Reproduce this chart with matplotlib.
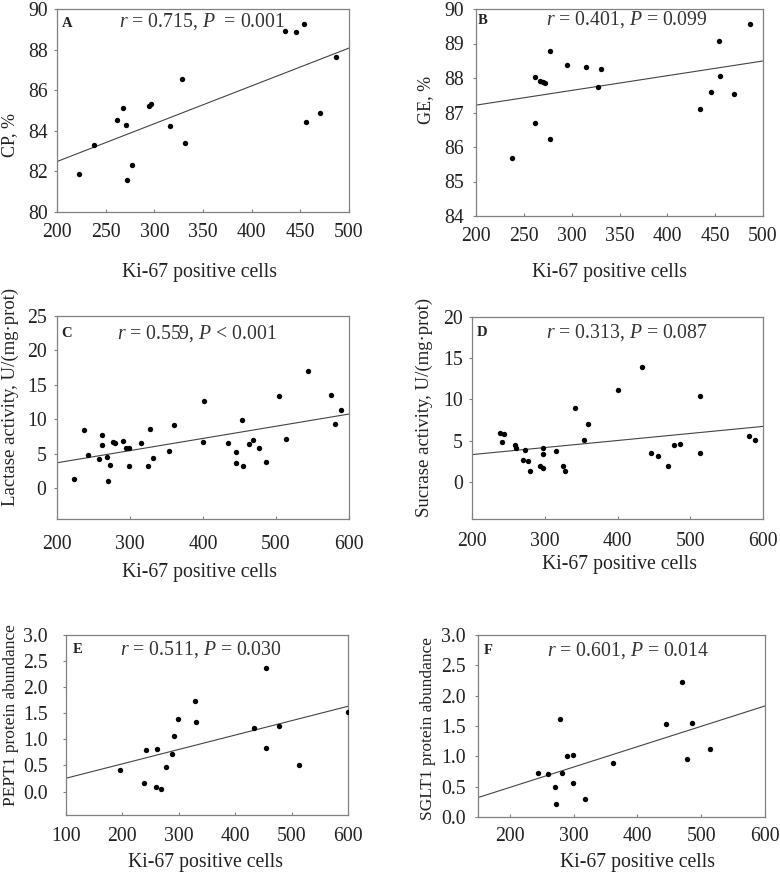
import numpy as np
import matplotlib
matplotlib.use("Agg")
import matplotlib.pyplot as plt

plt.rcParams['font.family'] = ['Liberation Serif', 'DejaVu Serif']
plt.rcParams['mathtext.fontset'] = 'custom'
plt.rcParams['mathtext.rm'] = 'Liberation Serif'
plt.rcParams['mathtext.it'] = 'Liberation Serif:italic'

# Données
cp_x = [223, 238, 262, 268, 271, 272, 277, 295, 297, 316, 328, 331, 434, 446, 454, 456, 470, 487]
cp_y = [81.89, 83.31, 84.52, 85.11, 84.31, 81.59, 82.30, 85.21, 85.33, 84.23, 86.56, 83.39,
        88.93, 88.87, 89.25, 84.43, 84.89, 87.62]

ge_x = [238, 262, 262, 267, 270, 272, 277, 277, 295, 315, 328, 331, 434, 446, 454, 455, 470, 486]
ge_y = [85.67, 88.02, 86.71, 87.91, 87.88, 87.86, 88.78, 86.24, 88.37, 88.31, 87.74, 88.25,
        87.10, 87.59, 89.07, 88.06, 87.54, 89.56]

lac_x = [223, 237, 243, 258, 262, 262, 268, 270, 272, 277, 280, 291, 294, 298, 298, 315, 325,
         327, 331, 354, 360, 400, 401, 434, 445, 445, 453, 455, 463, 469, 477, 486, 504, 514,
         544, 576, 581, 589]
lac_y = [1.25, 8.45, 4.73, 4.2, 7.77, 6.27, 4.54, 0.97, 3.28, 6.71, 6.52, 6.9, 5.79, 5.79,
         3.19, 6.61, 3.23, 8.54, 4.39, 5.45, 9.17, 6.71, 12.64, 6.52, 5.21, 3.62, 9.85, 3.23,
         6.37, 7.0, 5.79, 3.81, 13.32, 7.09, 16.99, 13.47, 9.36, 11.29]

suc_x = [238, 241, 244, 259, 261, 273, 270, 277, 280, 294, 298, 297, 298, 315, 325, 328, 342,
         354, 360, 400, 434, 446, 455, 470, 477, 486, 514, 514, 581, 589]
suc_y = [5.97, 4.88, 5.81, 4.52, 4.11, 3.83, 2.7, 2.5, 1.37, 1.94, 1.69, 4.15, 3.35, 3.71,
         1.9, 1.29, 8.91, 5.04, 7.02, 11.09, 13.91, 3.47, 3.1, 1.9, 4.48, 4.64, 10.44, 3.51,
         5.6, 5.08]

pept_x = [196, 238, 241, 259, 262, 268, 277, 288, 292, 299, 328, 331, 434, 454, 454, 477, 514, 600]
pept_y = [0.42, 0.17, 0.80, 0.09, 0.82, 0.05, 0.47, 0.72, 1.07, 1.39, 1.73, 1.34, 1.21, 2.36,
          0.83, 1.25, 0.51, 1.52]

sglt_x = [244, 260, 271, 273, 278, 281, 289, 299, 299, 317, 361, 445, 470, 477, 486, 514]
sglt_y = [0.72, 0.71, 0.50, 0.21, 1.62, 0.72, 1.01, 1.03, 0.56, 0.30, 0.89, 1.54, 2.23, 0.96,
          1.55, 1.12]

# Droites de régression (pente, ordonnée à l'origine)
trend_cp = (0.01863, 78.76)
trend_ge = (0.004267, 86.36)
trend_lac = (0.0177, 0.13)
trend_suc = (0.00855, 1.6)
trend_pept = (0.002758, -0.021)
trend_sglt = (0.003356, -0.183)

stats = [r'$r$ = 0.715, $P$  = 0.001', r'$r$ = 0.401, $P$ = 0.099', r'$r$ = 0.559, $P$ < 0.001',
         r'$r$ = 0.313, $P$ = 0.087', r'$r$ = 0.511, $P$ = 0.030', r'$r$ = 0.601, $P$ = 0.014']
letters = ['A', 'B', 'C', 'D', 'E', 'F']
ylabels = ['CP, %', 'GE, %', 'Lactase activity, U/(mg·prot)', 'Sucrase activity, U/(mg·prot)',
           'PEPT1 protein abundance', 'SGLT1 protein abundance']
ylabel_sizes = [13, 13, 13.5, 13.5, 12.5, 12.5]
xlabel = 'Ki-67 positive cells'

W, H = 780, 873
fig = plt.figure(figsize=(W / 100, H / 100), dpi=100)


def add_ax(left, top, right, bottom):
    return fig.add_axes([left / W, 1 - bottom / H, (right - left) / W, (bottom - top) / H])


def fig_text(x, y, s, **kw):
    fig.text(x / W, 1 - y / H, s, ha='center', va='center', color='#222222', **kw)


panels = [
    # x, y, tendance, cadre (px), xlim, ylim, xticks, yticks, format, pads, position texte, ylabel px, xlabel px
    (cp_x, cp_y, trend_cp, (57, 9, 349, 212), (200, 500), (80, 90), np.arange(200, 501, 50),
     np.arange(80, 91, 2), '{:.0f}', (8, 4), (0.017, 0.93, 0.212, 0.936), (10, 135), (200, 272)),
    (ge_x, ge_y, trend_ge, (476, 9, 763, 216), (200, 500), (84, 90), np.arange(200, 501, 50),
     np.arange(84, 91, 1), '{:.0f}', (8, 6.5), (0.005, 0.945, 0.244, 0.947), (426, 100), (610, 272)),
    (lac_x, lac_y, trend_lac, (57, 316, 349, 519), (200, 600), (-4.5, 25), np.arange(200, 601, 100),
     np.arange(0, 26, 5), '{:.0f}', (11.5, 5), (0.013, 0.916, 0.205, 0.916), (10, 397), (200, 572)),
    (suc_x, suc_y, trend_suc, (472, 317, 763, 519), (200, 600), (-4.5, 20), np.arange(200, 601, 100),
     np.arange(0, 21, 5), '{:.0f}', (9, 4), (0.017, 0.924, 0.253, 0.924), (424, 407), (620, 565)),
    (pept_x, pept_y, trend_pept, (66, 635, 348, 815), (100, 600), (-0.45, 3.0), np.arange(100, 601, 100),
     np.arange(0, 3.01, 0.5), '{:.1f}', (8.5, 10.5), (0.023, 0.92, 0.193, 0.92), (11, 715), (205, 862)),
    (sglt_x, sglt_y, trend_sglt, (478, 635, 765, 817), (150, 600), (0, 3.0), np.arange(200, 601, 100),
     np.arange(0, 3.01, 0.5), '{:.1f}', (7.5, 6.5), (0.021, 0.914, 0.241, 0.914), (428, 728), (637, 862)),
]

for i, (x, y, trend, box, xlim, ylim, xt, yt, fmt, pads, tpos, ylpos, xlpos) in enumerate(panels):
    ax = add_ax(*box)
    ax.scatter(x, y, s=15, color='black', zorder=3, linewidths=0)
    xs = np.array(xlim, dtype=float)
    ax.plot(xs, trend[0] * xs + trend[1], color='#444444', lw=0.8)
    ax.set_xlim(xlim)
    ax.set_ylim(ylim)
    ax.set_xticks(xt)
    ax.set_yticks(yt)
    ax.set_yticklabels([fmt.format(v) for v in yt])
    for sp in ax.spines.values():
        sp.set_color('#808080')
        sp.set_linewidth(0.9)
    ax.tick_params(axis='x', direction='in', length=2.5, width=0.8, color='#808080',
                   labelsize=14.2, pad=pads[0], labelcolor='#222222')
    ax.tick_params(axis='y', direction='out', length=2.5, width=0.8, color='#808080',
                   labelsize=14.2, pad=pads[1], labelcolor='#222222')
    ax.text(tpos[0], tpos[1], letters[i], transform=ax.transAxes, fontsize=10.5,
            fontweight='bold', ha='left', va='center', color='#222222')
    ax.text(tpos[2], tpos[3], stats[i], transform=ax.transAxes, fontsize=14.2,
            ha='left', va='center', color='#333333')
    fig_text(ylpos[0], ylpos[1], ylabels[i], rotation=90, fontsize=ylabel_sizes[i])
    fig_text(xlpos[0], xlpos[1], xlabel, fontsize=14.2)

plt.savefig("out.png", dpi=100)
